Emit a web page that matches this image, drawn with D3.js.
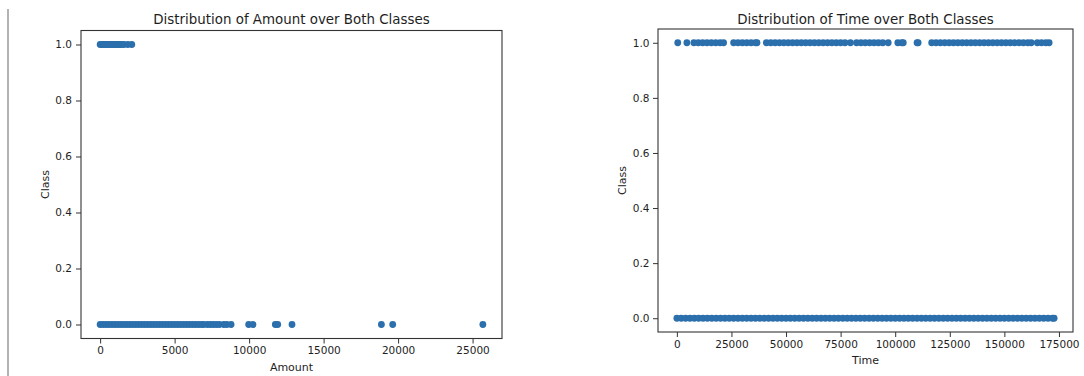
<!DOCTYPE html>
<html>
<head>
<meta charset="utf-8">
<script src="https://cdn.jsdelivr.net/npm/d3@7"></script>
<style>
  html, body { margin: 0; padding: 0; background: #fff; }
  svg { display: block; font-family: "DejaVu Sans", sans-serif; }
</style>
</head>
<body>
<script>
// ---------- data ----------
const amountClass0 = [0, 200, 400, 600, 800, 1000, 1200, 1400, 1600, 1800, 2000, 2200, 2400, 2600, 2800,
  3000, 3200, 3400, 3600, 3800, 4000, 4200, 4400, 4600, 4800, 5000, 5200, 5400, 5600, 5800,
  6000, 6200, 6400, 6600, 6800, 6950, 7200, 7400, 7600, 7800, 8000, 8300, 8500, 8790,
  9970, 10260, 11760, 11920, 12880, 18880, 19640, 25691];
const amountClass1 = [0, 100, 200, 300, 400, 500, 600, 700, 800, 900, 1000, 1100, 1200, 1300, 1350,
  1460, 1600, 1860, 2125];

const timeClass0 = [0, 2000, 4000, 6000, 8000, 10000, 12000, 14000, 16000, 18000, 20000, 22000, 24000,
  26000, 28000, 30000, 32000, 34000, 36000, 38000, 40000, 42000, 44000, 46000, 48000, 50000, 52000,
  54000, 56000, 58000, 60000, 62000, 64000, 66000, 68000, 70000, 72000, 74000, 76000, 78000, 80000,
  82000, 84000, 86000, 88000, 90000, 92000, 94000, 96000, 98000, 100000, 102000, 104000, 106000,
  108000, 110000, 112000, 114000, 116000, 118000, 120000, 122000, 124000, 126000, 128000, 130000,
  132000, 134000, 136000, 138000, 140000, 142000, 144000, 146000, 148000, 150000, 152000, 154000,
  156000, 158000, 160000, 162000, 164000, 166000, 168000, 170000, 172000, 172792];
const timeClass1 = [406, 4590,
  7800, 9800, 11800, 13800, 15800, 17800, 19800, 21400,
  26000, 28000, 30000, 32000, 34000, 36000, 36700,
  41000, 43000, 45000, 47000, 49000, 51000, 53000, 55000, 57000, 59000, 61000, 63000, 65000,
  67000, 69000, 71000, 73000, 75000, 77000, 79500,
  82300, 84300, 86300, 88300, 90300, 92300, 94300, 96800,
  101200, 103000, 103700,
  110000, 110500,
  116700, 118700, 120700, 122700, 124700, 126700, 128700, 130700, 132700, 134700, 136700, 138700,
  140700, 142700, 144700, 146700, 148700, 150700, 152700, 154700, 156700, 158700, 160700, 162300,
  165100, 167000, 169000, 170500];

const classTicks = [0, 0.2, 0.4, 0.6, 0.8, 1.0];
const amountTicks = [0, 5000, 10000, 15000, 20000, 25000];
const timeTicks = [0, 25000, 50000, 75000, 100000, 125000, 150000, 175000];

// ---------- drawing ----------
const W = 1084, H = 376;
const DOT = "#2b6fac";
const TXT = "#1e1e1e";

const svg = d3.select("body").append("svg").attr("width", W).attr("height", H);

// thin vertical separator on the far left
svg.append("line")
  .attr("x1", 8).attr("x2", 8).attr("y1", 9).attr("y2", H)
  .attr("stroke", "#9a9a9a").attr("stroke-width", 1.5);

function panel(cfg) {
  const all = cfg.c0.concat(cfg.c1);
  const [mn, mx] = d3.extent(all);
  const pad = (mx - mn) * 0.05;
  const x = d3.scaleLinear().domain([mn - pad, mx + pad]).range([cfg.left, cfg.right]);
  const y = d3.scaleLinear().domain([-0.05, 1.05]).range([cfg.bottom, cfg.top]);

  const g = svg.append("g");

  // points
  const pts = cfg.c0.map(v => ({ v, c: 0 })).concat(cfg.c1.map(v => ({ v, c: 1 })));
  g.append("g").selectAll("circle").data(pts).join("circle")
    .attr("cx", d => x(d.v)).attr("cy", d => y(d.c)).attr("r", 3.4)
    .attr("fill", DOT);

  // axes
  const xa = g.append("g").attr("transform", `translate(0,${cfg.bottom})`)
    .call(d3.axisBottom(x).tickValues(cfg.xticks).tickFormat(d3.format("d")).tickSize(5).tickPadding(3.5));
  const ya = g.append("g").attr("transform", `translate(${cfg.left},0)`)
    .call(d3.axisLeft(y).tickValues(classTicks).tickFormat(d3.format(".1f")).tickSize(5).tickPadding(cfg.ypad));
  [xa, ya].forEach(a => {
    a.select(".domain").remove();
    a.selectAll("line").attr("stroke", "#333").attr("stroke-width", 1);
    a.selectAll("text").attr("fill", TXT).style("font-size", "10.5px").style("font-family", "DejaVu Sans");
  });

  // frame
  g.append("rect")
    .attr("x", cfg.left).attr("y", cfg.top)
    .attr("width", cfg.right - cfg.left).attr("height", cfg.bottom - cfg.top)
    .attr("fill", "none").attr("stroke", "#333").attr("stroke-width", 1.1);

  const cx = (cfg.left + cfg.right) / 2;
  // title
  g.append("text").attr("x", cx).attr("y", cfg.titleY)
    .attr("text-anchor", "middle").attr("fill", TXT)
    .style("font-size", "13.4px").text(cfg.title);
  // x label
  g.append("text").attr("x", cx).attr("y", cfg.bottom + cfg.xlabOff)
    .attr("text-anchor", "middle").attr("fill", TXT)
    .style("font-size", "11px").text(cfg.xlabel);
  // y label
  const cy = (cfg.top + cfg.bottom) / 2;
  g.append("text")
    .attr("transform", `translate(${cfg.left - 32},${cy}) rotate(-90)`)
    .attr("text-anchor", "middle").attr("fill", TXT)
    .style("font-size", "11px").text("Class");
}

panel({
  c0: amountClass0, c1: amountClass1, xticks: amountTicks,
  left: 81, right: 502, top: 30.5, bottom: 338.5, ypad: 4,
  title: "Distribution of Amount over Both Classes", titleY: 24,
  xlabel: "Amount", xlabOff: 32
});

panel({
  c0: timeClass0, c1: timeClass1, xticks: timeTicks,
  left: 658, right: 1073, top: 29, bottom: 332, ypad: 3.5,
  title: "Distribution of Time over Both Classes", titleY: 23.5,
  xlabel: "Time", xlabOff: 31.5
});
</script>
</body>
</html>
